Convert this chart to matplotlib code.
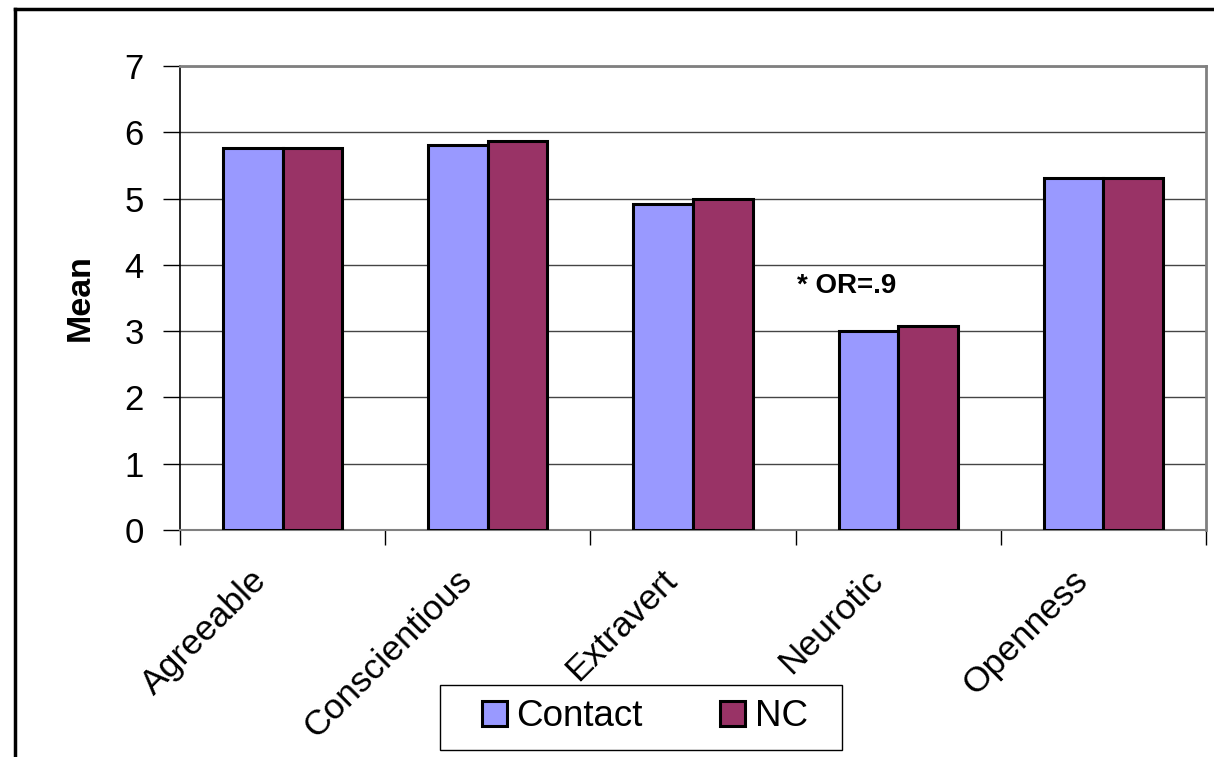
import numpy as np
import matplotlib
matplotlib.use("Agg")
import matplotlib.pyplot as plt
from matplotlib.lines import Line2D
from matplotlib.patches import Rectangle
import matplotlib.transforms as mtransforms

plt.rcParams['font.family'] = ['Liberation Sans', 'DejaVu Sans']

# data
categories = ["Agreeable", "Conscientious", "Extravert", "Neurotic", "Openness"]
contact = [5.76, 5.81, 4.92, 3.00, 5.31]
nc = [5.76, 5.87, 5.00, 3.08, 5.31]
yticks = [0, 1, 2, 3, 4, 5, 6, 7]

CONTACT_COLOR = "#9999FF"
NC_COLOR = "#993366"

W, H = 1214, 757
fig = plt.figure(figsize=(W / 100, H / 100), dpi=100)
ax = fig.add_axes([180 / W, 1 - 530 / H, (1206 - 180) / W, (530 - 66) / H])

x = np.arange(len(categories))
w = 0.29
ax.bar(x - w / 2, contact, w, color=CONTACT_COLOR, edgecolor="black", linewidth=2.2,
       label="Contact", zorder=3)
ax.bar(x + w / 2, nc, w, color=NC_COLOR, edgecolor="black", linewidth=2.2,
       label="NC", zorder=3)

ax.set_xlim(-0.5, len(categories) - 0.5)
ax.set_ylim(0, 7)
ax.set_yticks(yticks)
ax.tick_params(axis="y", direction="out", length=12, width=1, labelsize=25, pad=14)
ax.yaxis.grid(True, color="#444444", linewidth=1)
ax.set_axisbelow(True)

# category boundaries get tick marks, centers get labels
ax.set_xticks(np.arange(-0.5, len(categories)), minor=False)
ax.set_xticklabels([])
ax.tick_params(axis="x", which="major", direction="out", length=11, width=1)
ax.set_xticks(x, minor=True)
ax.set_xticklabels(categories, minor=True, rotation=45, ha="right", va="center",
                   rotation_mode="anchor", fontsize=25.5)
ax.tick_params(axis="x", which="minor", length=0, pad=0)
offset = mtransforms.ScaledTranslation(-0.21, -0.45, fig.dpi_scale_trans)
for lab in ax.get_xticklabels(minor=True):
    lab.set_transform(lab.get_transform() + offset)

for side in ["top", "right"]:
    ax.spines[side].set_color("#808080")
    ax.spines[side].set_linewidth(2)
ax.spines["bottom"].set_color("#808080")
ax.spines["bottom"].set_linewidth(1.5)
ax.spines["left"].set_color("black")
ax.spines["left"].set_linewidth(1.2)

ax.set_ylabel("Mean", fontsize=24.5, fontweight="bold", labelpad=21)

ax.text(2.75, 3.68, "* OR=.9", fontsize=20, fontweight="bold", ha="center", va="center")

# outer chart frame (cut off at right and bottom)
fig.add_artist(Line2D([15 / W, 1.0], [1 - 9 / H, 1 - 9 / H], color="black",
                      linewidth=2.5, transform=fig.transFigure))
fig.add_artist(Line2D([15 / W, 15 / W], [1 - 9 / H, 0], color="black",
                      linewidth=2.5, transform=fig.transFigure))

# legend box drawn separately so it can be wider than its entries
fig.add_artist(Rectangle((440 / W, 1 - 750 / H), (842 - 440) / W, (750 - 685) / H,
                         transform=fig.transFigure, facecolor="white",
                         edgecolor="black", linewidth=1, zorder=4))
leg = fig.legend(loc="center", bbox_to_anchor=(645 / W, 1 - 717 / H), ncol=2,
                 fontsize=26.5, frameon=False,
                 handlelength=0.68, handleheight=0.68, handletextpad=0.27,
                 columnspacing=2.1, borderpad=0, borderaxespad=0)
leg.set_zorder(5)
for h in leg.legend_handles:
    h.set_linewidth(2.2)

fig.savefig("out.png", dpi=100)
